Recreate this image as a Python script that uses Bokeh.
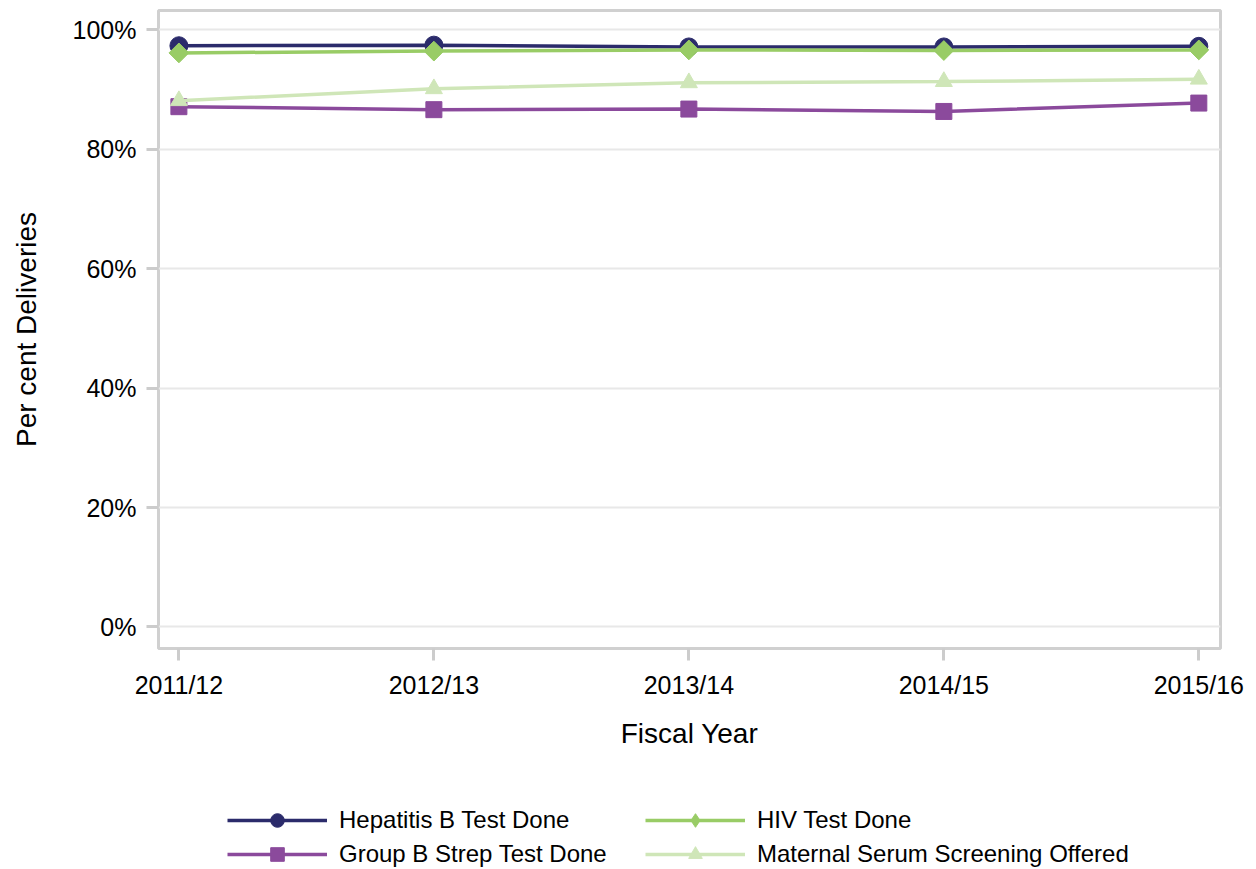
from bokeh.plotting import figure
from bokeh.layouts import column
from bokeh.models import Range1d, FixedTicker, Legend, LegendItem
from bokeh.embed import file_html
from bokeh.resources import INLINE

# ---- data ----
years = ["2011/12", "2012/13", "2013/14", "2014/15", "2015/16"]
hep_b = [97.3, 97.4, 97.1, 97.1, 97.2]
hiv = [96.1, 96.4, 96.6, 96.5, 96.6]
gbs = [87.1, 86.6, 86.7, 86.3, 87.7]
mss = [88.1, 90.1, 91.1, 91.3, 91.7]
series_names = ["Hepatitis B Test Done", "Group B Strep Test Done",
                "HIV Test Done", "Maternal Serum Screening Offered"]
y_ticks = [0, 20, 40, 60, 80, 100]
y_tick_labels = ["0%", "20%", "40%", "60%", "80%", "100%"]

FONT = "Liberation Sans"
xs = list(range(len(years)))

p = figure(width=1250, height=790, output_backend="svg", toolbar_location=None,
           x_range=Range1d(-0.08, 4.085), y_range=Range1d(-3.6, 103.2),
           min_border_left=158, min_border_right=30, min_border_top=10,
           min_border_bottom=142)

p.outline_line_color = "#d0d0d0"
p.outline_line_width = 3
p.background_fill_color = "white"
p.border_fill_color = "white"

p.xgrid.grid_line_color = None
p.ygrid.grid_line_color = "#e8e8e8"
p.ygrid.grid_line_width = 2

p.xaxis.ticker = FixedTicker(ticks=xs)
p.xaxis.major_label_overrides = {i: y for i, y in enumerate(years)}
p.yaxis.ticker = FixedTicker(ticks=y_ticks)
p.yaxis.major_label_overrides = {t: l for t, l in zip(y_ticks, y_tick_labels)}
p.ygrid.ticker = FixedTicker(ticks=y_ticks)

for ax in (p.xaxis[0], p.yaxis[0]):
    ax.axis_line_color = None
    ax.major_tick_line_color = "#cccccc"
    ax.major_tick_line_width = 3
    ax.major_tick_out = 12
    ax.major_tick_in = 0
    ax.minor_tick_line_color = None
    ax.major_label_text_font = FONT
    ax.major_label_text_font_size = "25px"
    ax.major_label_text_color = "black"
    ax.axis_label_text_font = FONT
    ax.axis_label_text_font_size = "28px"
    ax.axis_label_text_font_style = "normal"
    ax.axis_label_text_color = "black"

p.xaxis.major_label_standoff = 10
p.yaxis.major_label_standoff = 10
p.xaxis.axis_label = "Fiscal Year"
p.xaxis.axis_label_standoff = 16
p.yaxis.axis_label = "Per cent Deliveries"
p.yaxis.axis_label_standoff = 28

styles = [
    (hep_b, "#2B2B6B", "circle", 18, 0, "circle"),
    (gbs, "#8B4A9C", "square", 16, 0, "square"),
    (hiv, "#99CC66", "square", 14, 0.7853981634, "diamond"),
    (mss, "#CFE6B8", "triangle", 17, 0, "triangle"),
]

# legend strip (a second figure directly below the chart; its frame is
# aligned with the chart's frame by the column layout)
lf = figure(width=1250, height=78, output_backend="svg", toolbar_location=None,
            x_range=Range1d(0, 1), y_range=Range1d(0, 1),
            x_axis_location=None, y_axis_location=None,
            min_border_left=0, min_border_right=0, min_border_top=0,
            min_border_bottom=0)
lf.outline_line_color = None
lf.xgrid.visible = False
lf.ygrid.visible = False

off_x = [-10, -9]   # legend-only renderers sit outside the strip's range
off_y = [-10, -10]

items = {}
for name, (vals, color, marker, size, angle, lmarker) in zip(series_names, styles):
    p.line(xs, vals, line_color=color, line_width=3.5)
    p.scatter(xs, vals, marker=marker, size=size, angle=angle,
              fill_color=color, line_color=color, line_width=1)
    l_ln = lf.line(off_x, off_y, line_color=color, line_width=3.5)
    l_sc = lf.scatter(off_x, off_y, marker=lmarker, size=size,
                      fill_color=color, line_color=color, line_width=1)
    items[name] = LegendItem(label=name, renderers=[l_ln, l_sc])

order = ["Hepatitis B Test Done", "HIV Test Done",
         "Group B Strep Test Done", "Maternal Serum Screening Offered"]
legend = Legend(items=[items[n] for n in order], orientation="horizontal",
                ncols=2, location=(69, -3))
legend.label_text_font = FONT
legend.label_text_font_size = "24px"
legend.label_text_color = "black"
legend.glyph_width = 100
legend.glyph_height = 34
legend.label_height = 34
legend.label_width = 306
legend.label_standoff = 12
legend.spacing = 0
legend.padding = 0
legend.margin = 0
legend.border_line_color = None
legend.background_fill_alpha = 0
lf.add_layout(legend, "center")

layout = column(p, lf, spacing=0)
open("out.html", "w").write(file_html(layout, INLINE))
